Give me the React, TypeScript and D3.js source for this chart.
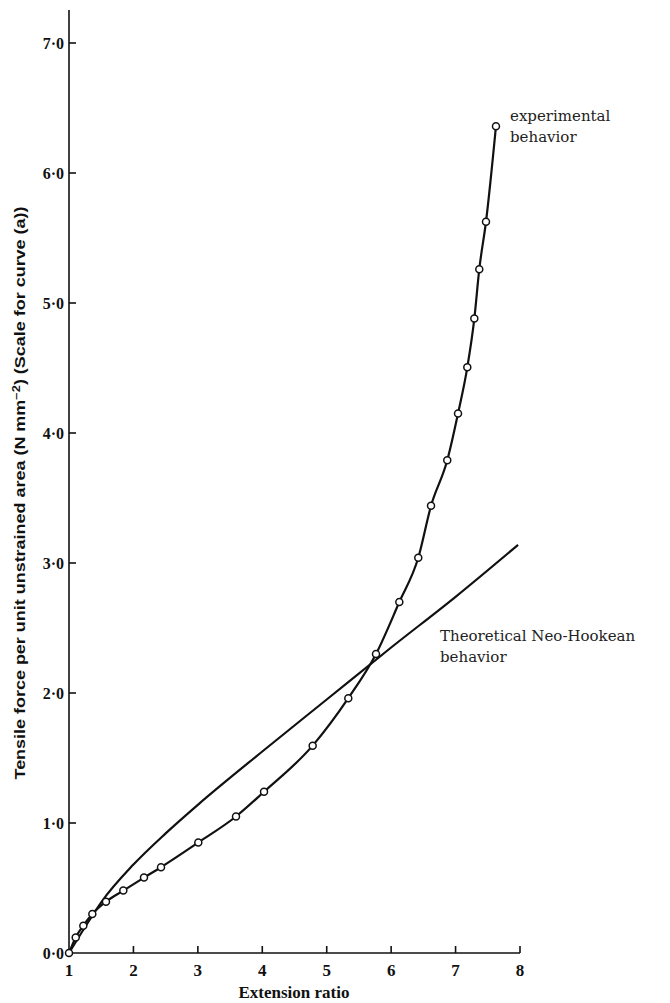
import React, { useRef, useEffect } from 'react';
import * as d3 from 'd3';

// experimental points (open circles)
const expRatio = [1.0, 1.104, 1.222, 1.362, 1.574, 1.843, 2.164, 2.428, 3.007, 3.592, 4.027, 4.782, 5.335, 5.765, 6.127, 6.421, 6.619, 6.871, 7.038, 7.182, 7.291, 7.368, 7.472, 7.627];
const expForce = [0, 0.12, 0.21, 0.3, 0.395, 0.48, 0.58, 0.66, 0.85, 1.05, 1.24, 1.595, 1.96, 2.3, 2.7, 3.04, 3.44, 3.79, 4.15, 4.505, 4.88, 5.26, 5.625, 6.36];

// theoretical neo-hookean line
const theoRatio = [1, 1.25, 1.5, 2, 2.5, 3, 4, 5, 6, 7, 7.97];
const theoForce = [0, 0.2, 0.39, 0.68, 0.92, 1.14, 1.55, 1.95, 2.35, 2.74, 3.14];

const xTicks = [1, 2, 3, 4, 5, 6, 7, 8];
const yTicks = [0, 1, 2, 3, 4, 5, 6, 7];

const W = 670;
const H = 1003;

type Pt = { x: number; y: number };

const App: React.FC = () => {
  const svgRef = useRef<SVGSVGElement>(null);

  useEffect(() => {
    if (!svgRef.current) return;
    const svg = d3.select(svgRef.current);
    svg.selectAll('*').remove();

    const xScale = d3.scaleLinear().domain([1, 8]).range([69, 520]);
    const yScale = d3.scaleLinear().domain([0, 7]).range([953, 43]);

    const serif = '"Liberation Serif", "DejaVu Serif", serif';

    svg.append('rect').attr('width', W).attr('height', H).attr('fill', '#fff');

    // axes
    const axes = svg.append('g').attr('stroke', '#111').attr('stroke-width', 1.6);
    axes.append('line')
      .attr('x1', xScale(1)).attr('x2', xScale(1))
      .attr('y1', 10).attr('y2', yScale(0));
    axes.append('line')
      .attr('x1', xScale(1)).attr('x2', xScale(8))
      .attr('y1', yScale(0)).attr('y2', yScale(0));

    xTicks.forEach(t => {
      if (t > 1) {
        axes.append('line')
          .attr('x1', xScale(t)).attr('x2', xScale(t))
          .attr('y1', yScale(0)).attr('y2', yScale(0) - 7);
      }
      svg.append('text')
        .attr('x', xScale(t))
        .attr('y', 976)
        .attr('text-anchor', 'middle')
        .attr('font-family', serif)
        .attr('font-weight', 'bold')
        .attr('font-size', '17px')
        .attr('fill', '#111')
        .text(String(t));
    });

    yTicks.forEach(t => {
      if (t > 0) {
        axes.append('line')
          .attr('x1', xScale(1)).attr('x2', xScale(1) + 7)
          .attr('y1', yScale(t)).attr('y2', yScale(t));
      }
      svg.append('text')
        .attr('x', 64)
        .attr('y', yScale(t))
        .attr('dy', '0.35em')
        .attr('text-anchor', 'end')
        .attr('font-family', serif)
        .attr('font-weight', 'bold')
        .attr('font-size', '16px')
        .attr('fill', '#111')
        .text(`${t}\u00b70`);
    });

    // axis labels
    svg.append('text')
      .attr('x', 294)
      .attr('y', 998)
      .attr('text-anchor', 'middle')
      .attr('font-family', serif)
      .attr('font-weight', 'bold')
      .attr('font-size', '17px')
      .attr('fill', '#111')
      .text('Extension ratio');

    const yLab = svg.append('text')
      .attr('transform', 'translate(25,493) rotate(-90)')
      .attr('text-anchor', 'middle')
      .attr('font-family', '"Liberation Sans", "DejaVu Sans", sans-serif')
      .attr('font-weight', 'bold')
      .attr('font-size', '14px')
      .attr('fill', '#111')
      .attr('textLength', 573)
      .attr('lengthAdjust', 'spacingAndGlyphs');
    yLab.append('tspan').text('Tensile force per unit unstrained area (N mm');
    yLab.append('tspan').attr('baseline-shift', 'super').attr('font-size', '10px').text('\u22122');
    yLab.append('tspan').text(') (Scale for curve (a))');

    const line = d3.line<Pt>()
      .x(d => xScale(d.x))
      .y(d => yScale(d.y))
      .curve(d3.curveMonotoneX);

    const theo: Pt[] = theoRatio.map((x, i) => ({ x, y: theoForce[i] }));
    const exp: Pt[] = expRatio.map((x, i) => ({ x, y: expForce[i] }));

    svg.append('path')
      .datum(theo)
      .attr('fill', 'none')
      .attr('stroke', '#111')
      .attr('stroke-width', 2.2)
      .attr('d', line);

    svg.append('path')
      .datum(exp)
      .attr('fill', 'none')
      .attr('stroke', '#111')
      .attr('stroke-width', 2.2)
      .attr('d', line);

    svg.append('g')
      .selectAll('circle')
      .data(exp)
      .join('circle')
      .attr('cx', d => xScale(d.x))
      .attr('cy', d => yScale(d.y))
      .attr('r', 3.5)
      .attr('fill', '#fff')
      .attr('stroke', '#111')
      .attr('stroke-width', 1.5);

    // annotations
    const annFont = '"DejaVu Serif", serif';
    const ann = (x: number, y: number, lines: string[]) => {
      lines.forEach((s, i) => {
        svg.append('text')
          .attr('x', x)
          .attr('y', y + i * 21)
          .attr('font-family', annFont)
          .attr('font-size', '15px')
          .attr('fill', '#222')
          .text(s);
      });
    };
    ann(510, 121, ['experimental', 'behavior']);
    ann(440, 641, ['Theoretical Neo-Hookean', 'behavior']);
  }, []);

  return (
    <div style={{ position: 'absolute', left: 0, top: 0 }}>
      <svg ref={svgRef} width={W} height={H} style={{ display: 'block' }} />
    </div>
  );
};

export default App;
